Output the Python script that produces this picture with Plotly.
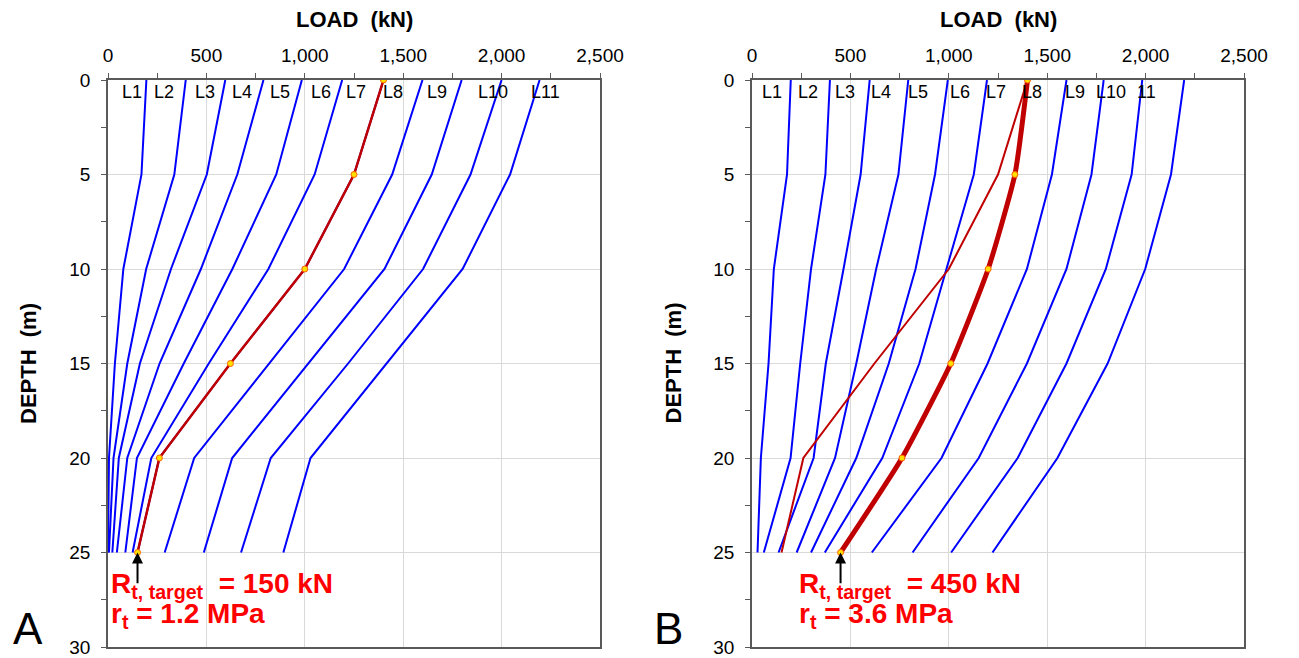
import plotly.graph_objects as go

# ---------------- data ----------------
depth = [0, 5, 10, 15, 20, 25]

# Panel A: load (kN) at each depth for each line
A_L1 = [195, 170, 78, 35, 5, 0]
A_L2 = [395, 337, 194, 98, 28, 5]
A_L3 = [596, 502, 320, 162, 55, 22]
A_L4 = [790, 657, 472, 262, 98, 45]
A_L5 = [985, 855, 632, 385, 147, 88]
A_L6 = [1190, 1050, 815, 512, 220, 125]
A_L7 = [1400, 1250, 1000, 622, 261, 150]
A_L8 = [1598, 1444, 1200, 820, 438, 288]
A_L9 = [1797, 1645, 1405, 1018, 631, 487]
A_L10 = [2000, 1842, 1601, 1220, 827, 676]
A_L11 = [2193, 2043, 1802, 1415, 1029, 891]
A_lines = [A_L1, A_L2, A_L3, A_L4, A_L5, A_L6, A_L7, A_L8, A_L9, A_L10, A_L11]
A_target = [1400, 1250, 1000, 622, 261, 150]

# Panel B
B_L1 = [197, 178, 111, 84, 45, 28]
B_L2 = [396, 373, 300, 245, 196, 60]
B_L3 = [598, 552, 465, 375, 313, 135]
B_L4 = [794, 744, 631, 530, 422, 227]
B_L5 = [995, 930, 831, 695, 530, 300]
B_L6 = [1194, 1127, 988, 850, 662, 370]
B_L7 = [1400, 1336, 1200, 1010, 762, 450]
B_L8 = [1598, 1524, 1397, 1197, 963, 609]
B_L9 = [1787, 1725, 1598, 1397, 1152, 816]
B_L10 = [1983, 1929, 1798, 1598, 1350, 1012]
B_L11 = [2196, 2129, 1998, 1807, 1552, 1222]
B_lines = [B_L1, B_L2, B_L3, B_L4, B_L5, B_L6, B_L7, B_L8, B_L9, B_L10, B_L11]
B_target = [1400, 1336, 1200, 1010, 762, 450]
B_prev = [1400, 1250, 1000, 622, 261, 150]

# label positions (kN) along the top
A_label_x = [122, 285, 494, 679, 874, 1083, 1260, 1449, 1673, 1957, 2221]
A_label_txt = ["L1", "L2", "L3", "L4", "L5", "L6", "L7", "L8", "L9", "L10", "L11"]
B_label_x = [101, 282, 474, 655, 841, 1058, 1240, 1421, 1643, 1825, 2006]
B_label_txt = ["L1", "L2", "L3", "L4", "L5", "L6", "L7", "L8", "L9", "L10", "11"]

x_ticks = [0, 500, 1000, 1500, 2000, 2500]
y_ticks = [0, 5, 10, 15, 20, 25, 30]

FONT = "Liberation Sans, Arial, sans-serif"
BLUE = "#0000FF"
DRED = "#C00000"
RED = "#FF0000"

fig = go.Figure()

for ln in A_lines:
    fig.add_trace(go.Scatter(x=ln, y=depth, mode="lines", line=dict(color=BLUE, width=2),
                             xaxis="x", yaxis="y", hoverinfo="skip"))
fig.add_trace(go.Scatter(x=A_target, y=depth, mode="lines+markers",
                         line=dict(color=DRED, width=2.5),
                         marker=dict(size=6, color="#FFE000", line=dict(color="#FF6000", width=1)),
                         xaxis="x", yaxis="y"))

for ln in B_lines:
    fig.add_trace(go.Scatter(x=ln, y=depth, mode="lines", line=dict(color=BLUE, width=2),
                             xaxis="x2", yaxis="y2", hoverinfo="skip"))
fig.add_trace(go.Scatter(x=B_prev, y=depth, mode="lines",
                         line=dict(color=DRED, width=2), xaxis="x2", yaxis="y2"))
fig.add_trace(go.Scatter(x=B_target, y=depth, mode="lines+markers",
                         line=dict(color=DRED, width=5, shape="spline", smoothing=0.5),
                         marker=dict(size=6, color="#FFE000", line=dict(color="#FF6000", width=1)),
                         xaxis="x2", yaxis="y2"))

W, H = 1299, 658
AX_L, AX_R = 108, 600
BX_L, BX_R = 752, 1244
Y_TOP, Y_BOT = 80, 647
x_dom_A = [AX_L / W, AX_R / W]
x_dom_B = [BX_L / W, BX_R / W]
y_dom = [1 - Y_BOT / H, 1 - Y_TOP / H]

def xax(domain, anchor):
    return dict(domain=domain, anchor=anchor, side="top", range=[0, 2500], automargin=False,
                tickvals=x_ticks, tickformat=",", showgrid=True, gridcolor="#D9D9D9", gridwidth=1,
                showline=True, linecolor="#595959", linewidth=1.5, mirror=True,
                ticks="outside", ticklen=5, tickcolor="#595959",
                minor=dict(dtick=250, tick0=0, ticks="outside", ticklen=5, tickcolor="#595959", showgrid=False),
                tickfont=dict(family=FONT, size=19, color="black"), ticklabelstandoff=4,
                zeroline=False, fixedrange=True)

def yax(anchor):
    return dict(domain=y_dom, anchor=anchor, range=[30, 0], tickvals=y_ticks, automargin=False,
                showgrid=True, gridcolor="#D9D9D9", gridwidth=1,
                showline=True, linecolor="#595959", linewidth=1.5, mirror=True,
                ticks="outside", ticklen=5, tickcolor="#595959",
                minor=dict(dtick=2.5, tick0=0, ticks="outside", ticklen=5, tickcolor="#595959", showgrid=False),
                tickfont=dict(family=FONT, size=19, color="black"), ticklabelstandoff=7,
                zeroline=False, fixedrange=True)

fig.update_layout(
    width=W, height=H, margin=dict(l=0, r=0, t=0, b=0),
    plot_bgcolor="white", paper_bgcolor="white", showlegend=False,
    xaxis=xax(x_dom_A, "y"), yaxis=yax("x"),
    xaxis2=xax(x_dom_B, "y2"), yaxis2=yax("x2"),
)

ann = []
for xv, t in zip(A_label_x, A_label_txt):
    ann.append(dict(x=xv, y=0.65, xref="x", yref="y", text=t, showarrow=False,
                    xanchor="center", yanchor="middle",
                    font=dict(family=FONT, size=18, color="black")))
for xv, t in zip(B_label_x, B_label_txt):
    ann.append(dict(x=xv, y=0.65, xref="x2", yref="y2", text=t, showarrow=False,
                    xanchor="center", yanchor="middle",
                    font=dict(family=FONT, size=18, color="black")))

# axis titles
for xc in [(AX_L + AX_R) / 2 / W, (BX_L + BX_R) / 2 / W]:
    ann.append(dict(x=xc, y=1 - 19 / H, xref="paper", yref="paper", text="<b>LOAD  (kN)</b>",
                    xanchor="center", yanchor="middle",
                    showarrow=False, font=dict(family=FONT, size=22, color="black")))
for xc in [28.5 / W, (BX_L - 79) / W]:
    ann.append(dict(x=xc, y=1 - (Y_TOP + Y_BOT) / 2 / H, xref="paper", yref="paper",
                    text="<b>DEPTH  (m)</b>", xanchor="center", yanchor="middle",
                    textangle=-90, showarrow=False, font=dict(family=FONT, size=22, color="black")))

# panel letters
ann.append(dict(x=27.5 / W, y=1 - 628 / H, xref="paper", yref="paper", text="A", showarrow=False,
                xanchor="center", yanchor="middle", font=dict(family=FONT, size=44, color="black")))
ann.append(dict(x=(BX_L - 83) / W, y=1 - 628 / H, xref="paper", yref="paper", text="B", showarrow=False,
                xanchor="center", yanchor="middle", font=dict(family=FONT, size=44, color="black")))

# arrows
ann.append(dict(x=A_target[-1], y=25, xref="x", yref="y", ax=A_target[-1], ay=26.7,
                axref="x", ayref="y", text="", showarrow=True, arrowhead=2, arrowsize=1.1,
                arrowwidth=2, arrowcolor="black"))
ann.append(dict(x=B_target[-1], y=25, xref="x2", yref="y2", ax=B_target[-1], ay=26.7,
                axref="x2", ayref="y2", text="", showarrow=True, arrowhead=2, arrowsize=1.1,
                arrowwidth=2, arrowcolor="black"))

# red texts
for xl, t1, t2 in [(AX_L + 1, "<b>R<sub>t, target</sub>  = 150 kN</b>", "<b>r<sub>t</sub> = 1.2 MPa</b>"),
                   (BX_L + 45, "<b>R<sub>t, target</sub>  = 450 kN</b>", "<b>r<sub>t</sub> = 3.6 MPa</b>")]:
    ann.append(dict(x=xl / W, y=1 - 585 / H, xref="paper", yref="paper", xanchor="left", yanchor="middle",
                    text=t1, showarrow=False, font=dict(family=FONT, size=28, color=RED)))
    ann.append(dict(x=xl / W, y=1 - 615 / H, xref="paper", yref="paper", xanchor="left", yanchor="middle",
                    text=t2, showarrow=False, font=dict(family=FONT, size=28, color=RED)))

fig.update_layout(annotations=ann)
fig.write_html("out.html")
